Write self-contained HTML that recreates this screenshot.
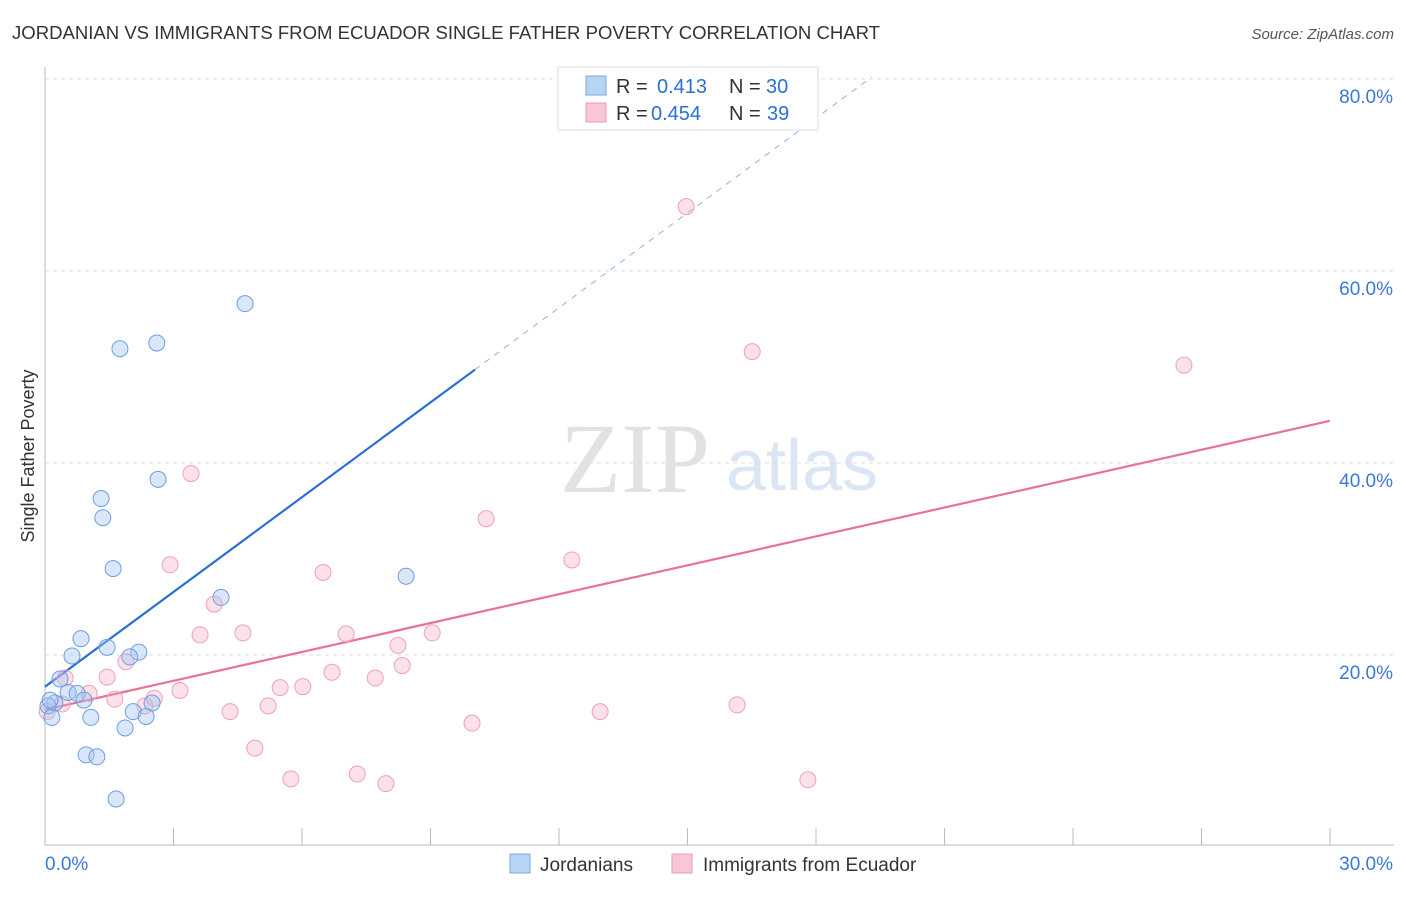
<!DOCTYPE html>
<html><head><meta charset="utf-8"><style>
body{margin:0;background:#fff;font-family:"Liberation Sans",sans-serif;}
</style></head><body>
<svg id="chart" width="1406" height="892" style="font-family:'Liberation Sans',sans-serif">
<text x="12" y="39" font-size="18" fill="#333" textLength="868" lengthAdjust="spacingAndGlyphs">JORDANIAN VS IMMIGRANTS FROM ECUADOR SINGLE FATHER POVERTY CORRELATION CHART</text>
<text x="1394" y="39" font-size="15" fill="#555" font-style="italic" text-anchor="end">Source: ZipAtlas.com</text>
<text x="635" y="492" font-size="100" fill="#e2e2e2" style="font-family:'Liberation Serif',serif" text-anchor="middle">ZIP</text>
<text x="802" y="490" font-size="72" fill="#dbe6f5" text-anchor="middle">atlas</text>
<g id="grid"></g><g id="axes"></g><g id="lines"></g><g id="pts"></g>
<text transform="translate(34,456) rotate(-90)" font-size="18" fill="#333" text-anchor="middle">Single Father Poverty</text>
<g>
<rect x="558" y="67" width="260" height="63" fill="#fff" stroke="#ddd"/>
<rect x="586" y="76" width="20" height="19" fill="#b8d4f5" stroke="#7aa7e0"/>
<rect x="586" y="103" width="20" height="19" fill="#f9c6d6" stroke="#eb9ab3"/>
<text x="616" y="93" font-size="20" fill="#333">R =</text>
<text x="657" y="93" font-size="20" fill="#2a6fd6">0.413</text>
<text x="729" y="93" font-size="20" fill="#333">N =</text>
<text x="766" y="93" font-size="20" fill="#2a6fd6">30</text>
<text x="616" y="120" font-size="20" fill="#333">R =</text>
<text x="651" y="120" font-size="20" fill="#2a6fd6">0.454</text>
<text x="729" y="120" font-size="20" fill="#333">N =</text>
<text x="767" y="120" font-size="20" fill="#2a6fd6">39</text>
</g>
<g>
<rect x="510" y="854" width="20" height="19" fill="#b8d4f5" stroke="#7aa7e0"/>
<text x="540" y="871" font-size="19" fill="#333">Jordanians</text>
<rect x="672" y="854" width="20" height="19" fill="#f9c6d6" stroke="#eb9ab3"/>
<text x="703" y="871" font-size="19" fill="#333">Immigrants from Ecuador</text>
</g>
</svg>
<script>
const xTicks=[0,30];
const yTicks=[20,40,60,80];
const blueX=[4.67,2.61,1.75,2.64,1.31,1.35,1.59,8.43,4.11,0.84,1.45,2.19,0.63,1.98,0.35,0.54,0.75,0.91,0.23,2.50,0.07,2.06,2.36,1.07,0.16,1.87,0.96,1.21,1.66,0.12];
const blueY=[56.6,52.5,51.9,38.3,36.3,34.3,29.0,28.2,26.0,21.7,20.8,20.3,19.9,19.8,17.5,16.1,16.0,15.3,15.0,15.0,14.7,14.1,13.6,13.5,13.5,12.4,9.6,9.4,5.0,15.3];
const pinkX=[14.97,16.51,26.59,3.41,10.30,12.30,2.92,6.49,3.95,9.04,4.62,3.62,7.03,8.24,1.89,8.34,6.70,7.71,1.45,0.47,5.49,6.02,3.15,1.03,2.55,1.63,0.40,2.33,5.21,16.16,4.32,12.96,0.05,9.97,4.90,7.29,5.74,7.96,17.81];
const pinkY=[66.7,51.6,50.2,38.9,34.2,29.9,29.4,28.6,25.3,22.3,22.3,22.1,22.2,21.0,19.3,18.9,18.2,17.6,17.7,17.6,16.6,16.7,16.3,16.0,15.5,15.4,14.9,14.7,14.7,14.8,14.1,14.1,14.1,12.9,10.3,7.6,7.1,6.6,7.0];
const blueFit=[16.7,3.29];
const pinkFit=[14.3,1.003];
const sx=v=>45+v*(1285/30);
const sy=v=>847-v*9.6;
const NS="http://www.w3.org/2000/svg";
function mk(p,t,a){const e=document.createElementNS(NS,t);for(const k in a)e.setAttribute(k,a[k]);document.getElementById(p).appendChild(e);return e;}
yTicks.forEach(t=>{
 const l=mk('grid','line',{x1:45,x2:1394,y1:sy(t),y2:sy(t),stroke:'#ddd','stroke-dasharray':'4,4'});
 
 
 const tx=mk('grid','text',{x:1393,y:sy(t)+24,'font-size':19,fill:'#3b78d8','text-anchor':'end'});
 tx.textContent=t.toFixed(1)+'%';
 
 
});
mk('axes','line',{x1:45,x2:45,y1:67,y2:845,stroke:'#bbb'});
mk('axes','line',{x1:45,x2:1394,y1:845,y2:845,stroke:'#bbb'});
for(let i=0;i<=10;i++){const x=sx(i*3);const t=mk('axes','line',{x1:x,x2:x,y1:828,y2:845,stroke:'#bbb'});}
xTicks.forEach((t,i)=>{
 const tx=mk('axes','text',{x:i?1393:45,y:870,'font-size':19,fill:'#3b78d8','text-anchor':i?'end':'start'});
 tx.textContent=t.toFixed(1)+'%';
 
 
});
const bl=mk('lines','line',{x1:sx(0),y1:sy(blueFit[0]),x2:sx(10.04),y2:sy(blueFit[0]+blueFit[1]*10.04),stroke:'#2a6fd6','stroke-width':2.2});


const bd=mk('lines','line',{x1:sx(10.04),y1:sy(blueFit[0]+blueFit[1]*10.04),x2:sx(19.3),y2:sy(blueFit[0]+blueFit[1]*19.3),stroke:'#8fb2e6','stroke-width':1,'stroke-dasharray':'6,6'});


const pl=mk('lines','line',{x1:sx(0),y1:sy(pinkFit[0]),x2:sx(30),y2:sy(pinkFit[0]+pinkFit[1]*30),stroke:'#e8719a','stroke-width':2.2});


pinkX.forEach((x,i)=>{const c=mk('pts','circle',{cx:sx(x),cy:sy(pinkY[i]),r:8,fill:'rgba(246,170,195,0.35)',stroke:'#eea0b8','stroke-width':1});

});
blueX.forEach((x,i)=>{const c=mk('pts','circle',{cx:sx(x),cy:sy(blueY[i]),r:8,fill:'rgba(160,196,240,0.4)',stroke:'#6d9ee0','stroke-width':1});

});
</script>
</body></html>
